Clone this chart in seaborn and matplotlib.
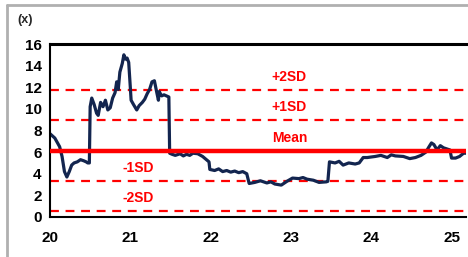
import matplotlib
matplotlib.use("Agg")
import matplotlib.pyplot as plt
from matplotlib.lines import Line2D
import seaborn as sns
import pandas as pd

years = [20.00, 20.03, 20.06, 20.09, 20.12, 20.15, 20.18, 20.21, 20.24, 20.27, 20.30, 20.34, 20.38, 20.42,
         20.45, 20.47, 20.49, 20.50, 20.52, 20.55, 20.58, 20.60, 20.63, 20.66, 20.69, 20.72, 20.75, 20.78,
         20.81, 20.83, 20.85, 20.87, 20.90, 20.92, 20.94, 20.96, 20.98, 21.00, 21.01, 21.04, 21.08, 21.11,
         21.15, 21.18, 21.21, 21.24, 21.27, 21.30, 21.33, 21.35, 21.36, 21.39, 21.42, 21.48, 21.49, 21.52,
         21.56, 21.62, 21.66, 21.70, 21.74, 21.78, 21.84, 21.90, 21.98, 21.99, 22.05, 22.10, 22.15, 22.20,
         22.25, 22.30, 22.35, 22.40, 22.45, 22.48, 22.55, 22.62, 22.70, 22.75, 22.80, 22.88, 22.95, 23.02,
         23.10, 23.15, 23.20, 23.28, 23.35, 23.44, 23.46, 23.48, 23.55, 23.60, 23.65, 23.72, 23.80, 23.85,
         23.90, 23.95, 24.05, 24.12, 24.20, 24.25, 24.30, 24.40, 24.48, 24.55, 24.62, 24.68, 24.72, 24.75,
         24.78, 24.82, 24.86, 24.90, 24.98, 25.00, 25.05, 25.10, 25.15, 25.18]
pe = [7.7, 7.5, 7.3, 6.9, 6.5, 5.6, 4.2, 3.7, 4.2, 4.8, 5.0, 5.1, 5.3, 5.2,
      5.1, 5.0, 5.0, 10.2, 11.0, 10.4, 9.6, 9.4, 10.6, 10.2, 10.8, 9.9, 10.1, 11.0,
      11.5, 12.5, 11.8, 13.4, 14.2, 15.0, 14.6, 14.7, 14.3, 12.0, 10.8, 10.4, 9.9, 10.3,
      10.6, 10.9, 11.4, 11.8, 12.5, 12.6, 11.5, 10.8, 11.6, 11.2, 11.3, 11.1, 5.9, 5.8,
      5.7, 5.85, 5.65, 5.8, 5.7, 5.9, 5.85, 5.6, 5.1, 4.4, 4.3, 4.45, 4.2, 4.3,
      4.15, 4.25, 4.1, 4.2, 4.0, 3.1, 3.2, 3.35, 3.15, 3.25, 3.05, 2.95, 3.3, 3.6,
      3.55, 3.65, 3.5, 3.4, 3.2, 3.25, 3.3, 5.1, 5.0, 5.15, 4.8, 5.0, 4.9, 5.0,
      5.5, 5.5, 5.6, 5.7, 5.5, 5.75, 5.65, 5.6, 5.4, 5.5, 5.7, 6.0, 6.5, 6.85,
      6.7, 6.2, 6.6, 6.4, 6.2, 5.45, 5.45, 5.6, 5.9, 5.9]

band_names = ["+2SD", "+1SD", "Mean", "-1SD", "-2SD"]
band_values = [11.75, 8.95, 6.15, 3.35, 0.55]
label_x = [22.98, 22.98, 22.98, 21.1, 21.1]

xticks = [20, 21, 22, 23, 24, 25]
yticks = [0, 2, 4, 6, 8, 10, 12, 14, 16]

df = pd.DataFrame({"year": years, "pe": pe})

sns.set_style("white")
plt.rcParams["font.family"] = ["Liberation Sans Narrow", "Liberation Sans", "DejaVu Sans"]

fig = plt.figure(figsize=(4.68, 2.57), dpi=100)
ax = fig.add_axes([50/468, 1-217/257, 416/468, 173/257])

sns.lineplot(data=df, x="year", y="pe", ax=ax, color="#13254f", linewidth=2.3)

for name, v in zip(band_names, band_values):
    if name == "Mean":
        ax.axhline(v, color="#ff0000", linewidth=3.2, zorder=3)
    else:
        ax.axhline(v, color="#ff0000", linewidth=1.6, linestyle=(0, (4, 3)), zorder=1)

for name, v, lx in zip(band_names, band_values, label_x):
    ax.text(lx, v + 0.55, name, color="#ff0000", fontsize=10, ha="center", va="bottom",
            fontweight="bold")

ax.set_xlim(20, 25.18)
ax.set_ylim(0, 16)
ax.set_xticks(xticks)
ax.set_xticklabels([str(t) for t in xticks])
ax.set_yticks(yticks)
ax.set_yticklabels([str(t) for t in yticks])
ax.set_xlabel("")
ax.set_ylabel("")
ax.tick_params(axis="both", labelsize=11, length=4, width=1, colors="black", direction="out", pad=2)
for lab in ax.get_xticklabels() + ax.get_yticklabels():
    lab.set_fontweight("bold")
ax.tick_params(axis="x", pad=6)

for s in ["left", "bottom", "top"]:
    ax.spines[s].set_visible(True)
    ax.spines[s].set_color("black")
ax.spines["left"].set_linewidth(1.5)
ax.spines["bottom"].set_linewidth(1.5)
ax.spines["top"].set_linewidth(2.2)
ax.spines["right"].set_visible(False)

fig.text(17/468, 1-20/257, "(x)", fontsize=9, fontweight="bold", ha="left", va="center")

fig.add_artist(Line2D([7/468, 1], [1-5/257, 1-5/257], transform=fig.transFigure, color="#b0b0b0", linewidth=2))
fig.add_artist(Line2D([7/468, 7/468], [0, 1-5/257], transform=fig.transFigure, color="#b0b0b0", linewidth=2))

fig.savefig("out.png", dpi=100)
